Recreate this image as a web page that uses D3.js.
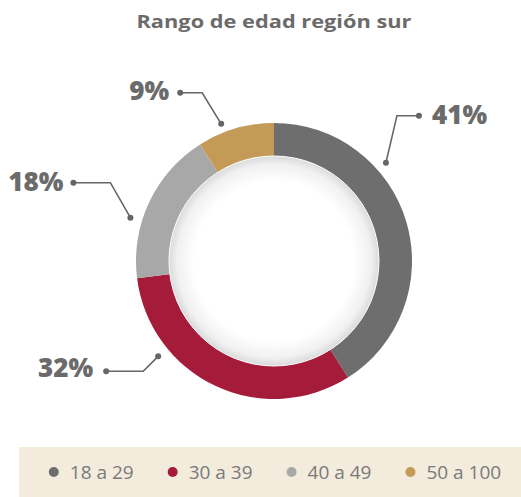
<!DOCTYPE html>
<html>
<head>
<meta charset="utf-8">
<script src="https://cdn.jsdelivr.net/npm/d3@7"></script>
<style>
  body { margin: 0; background: #fff; }
  svg { display: block; }
</style>
</head>
<body>
<svg id="chart" width="521" height="497"></svg>
<script>
// Age groups and their share of the southern region
const categories = ["18 a 29", "30 a 39", "40 a 49", "50 a 100"];
const shares = [41, 32, 18, 9];
const shareLabels = ["41%", "32%", "18%", "9%"];
const colors = ["#6e6e6e", "#a51c3a", "#a8a8a8", "#c49a57"];
const title = "Rango de edad región sur";

// Callout layout for each slice: where on the slice the leader starts,
// the elbow offset, the horizontal run, and the label offsets.
const callouts = [
  { at: 0.33, r: 149, elbow: [11, -47], run: 22, gap: 13, dy: 8 },
  { at: 0.72, r: 150, elbow: [-15, 15], run: -37, gap: 13, dy: 6 },
  { at: 0.37, r: 150, elbow: [-20, -35], run: -37, gap: 10, dy: 8 },
  { at: 0.35, r: 147, elbow: [-19, -31], run: -22, gap: 11, dy: 7 }
];

const width = 521, height = 497;
const cx = 274, cy = 261;
const outerR = 138, innerR = 100, holeR = 105;
const font = "'Open Sans', sans-serif";
const ink = "#6b6b6b";

const svg = d3.select("#chart");

// gradient for the recessed centre disc
const defs = svg.append("defs");
const grad = defs.append("radialGradient").attr("id", "hole");
grad.append("stop").attr("offset", "0%").attr("stop-color", "#ffffff");
grad.append("stop").attr("offset", "76%").attr("stop-color", "#ffffff");
grad.append("stop").attr("offset", "92%").attr("stop-color", "#f1f1f1");
grad.append("stop").attr("offset", "100%").attr("stop-color", "#dadada");

// title
svg.append("text")
  .attr("x", cx).attr("y", 28)
  .attr("text-anchor", "middle")
  .attr("font-family", font).attr("font-weight", 700).attr("font-size", 18.5)
  .attr("textLength", 275).attr("lengthAdjust", "spacingAndGlyphs")
  .attr("fill", ink)
  .text(title);

const data = categories.map((c, i) => ({ category: c, value: shares[i], label: shareLabels[i], color: colors[i], callout: callouts[i] }));

const pie = d3.pie().sort(null).value(d => d.value);
const arc = d3.arc().innerRadius(innerR).outerRadius(outerR);
const arcs = pie(data);

const g = svg.append("g").attr("transform", `translate(${cx},${cy})`);

g.selectAll("path.slice")
  .data(arcs)
  .join("path")
  .attr("class", "slice")
  .attr("d", arc)
  .attr("fill", d => d.data.color);

g.append("circle")
  .attr("r", holeR)
  .attr("fill", "url(#hole)")
  .attr("stroke", "#ffffff")
  .attr("stroke-width", 1);

// callouts with leader lines
const polar = (a, r) => [r * Math.sin(a), -r * Math.cos(a)];

const callG = g.selectAll("g.callout")
  .data(arcs)
  .join("g")
  .attr("class", "callout");

callG.each(function (d) {
  const c = d.data.callout;
  const a = d.startAngle + c.at * (d.endAngle - d.startAngle);
  const p0 = polar(a, c.r);
  const p1 = [p0[0] + c.elbow[0], p0[1] + c.elbow[1]];
  const p2 = [p1[0] + c.run, p1[1]];
  const sel = d3.select(this);
  sel.append("path")
    .attr("d", d3.line()([p0, p1, p2]))
    .attr("fill", "none")
    .attr("stroke", "#666")
    .attr("stroke-width", 1.6);
  sel.selectAll("circle")
    .data([p0, p2])
    .join("circle")
    .attr("cx", p => p[0]).attr("cy", p => p[1])
    .attr("r", 3)
    .attr("fill", "#666");
  const right = c.run > 0;
  sel.append("text")
    .attr("x", p2[0] + (right ? c.gap : -c.gap))
    .attr("y", p2[1] + c.dy)
    .attr("text-anchor", right ? "start" : "end")
    .attr("font-family", font).attr("font-weight", 800).attr("font-size", 26)
    .attr("fill", ink)
    .text(d.data.label);
});

// legend band
const legendY = 472;
svg.append("rect")
  .attr("x", 19).attr("y", 447)
  .attr("width", width - 19).attr("height", 50)
  .attr("fill", "#f3ebdc");

const legend = svg.append("g");
const items = legend.selectAll("g.item")
  .data(data)
  .join("g")
  .attr("class", "item");

items.append("circle")
  .attr("r", 5)
  .attr("fill", d => d.color);

items.append("text")
  .attr("x", 16)
  .attr("y", 6.5)
  .attr("font-family", font).attr("font-weight", 400).attr("font-size", 19)
  .attr("fill", "#7a7a7a")
  .text(d => d.category);

// place items side by side using their measured widths, centred in the band
const itemGap = 34;
let xPos = 0;
const offsets = [];
items.each(function () {
  const w = this.getBBox().width;
  offsets.push(xPos + 5);
  xPos += w + itemGap;
});
const total = xPos - itemGap;
const startX = 52 + (498 - 52 - total) / 2;
items.attr("transform", (d, i) => `translate(${startX + offsets[i]},${legendY})`);
</script>
</body>
</html>
